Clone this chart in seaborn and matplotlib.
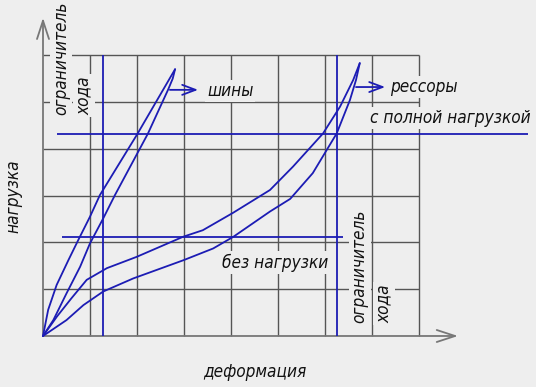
import matplotlib
matplotlib.use("Agg")
import matplotlib.pyplot as plt
import seaborn as sns
from matplotlib import font_manager
from matplotlib.font_manager import FontProperties
from matplotlib.textpath import TextPath

# ---- data (grid units: deformation, load) ----
tire_load_x = [0, 0.11, 0.29, 0.54, 0.75, 1.0, 1.21, 2.01, 2.81]
tire_load_y = [0, 0.56, 1.09, 1.62, 2.05, 2.55, 3.01, 4.32, 5.70]
tire_unload_x = [0, 0.22, 0.50, 0.79, 1.0, 1.28, 1.53, 2.23, 2.66, 2.76, 2.81]
tire_unload_y = [0, 0.34, 0.91, 1.48, 1.98, 2.51, 3.01, 4.32, 5.26, 5.50, 5.70]
spring_load_x = [0, 0.30, 0.60, 0.93, 1.36, 1.99, 2.98, 3.40, 4.04, 4.83, 5.32, 5.96, 6.32, 6.60, 6.74]
spring_load_y = [0, 0.42, 0.80, 1.20, 1.45, 1.69, 2.12, 2.26, 2.63, 3.12, 3.62, 4.33, 4.90, 5.47, 5.83]
spring_unload_x = [0, 0.50, 0.86, 1.28, 1.92, 2.99, 3.62, 4.05, 4.83, 5.26, 5.74, 6.25, 6.53, 6.66, 6.74]
spring_unload_y = [0, 0.34, 0.66, 0.95, 1.23, 1.62, 1.87, 2.12, 2.66, 2.93, 3.48, 4.33, 5.04, 5.47, 5.83]

grid_x = [1, 2, 3, 4, 5, 6, 7, 8]
grid_y = [1, 2, 3, 4, 5, 6]
limit_tire_x = 1.28
limit_spring_x = 6.25
full_load_y = 4.32
no_load_y = 2.12

BG = "#eeeeee"
BLUE = "#1c1cb4"
GRID = "#555555"
AXC = "#777777"

sns.set_theme(style="white")
plt.rcParams["font.family"] = ["DejaVu Sans"]

# pick a narrow italic font if one is installed
fp = None
for key in ["LiberationSansNarrow-Italic", "DejaVuSansCondensed-Oblique",
            "RobotoCondensed-Italic", "OpenSans_Condensed-Italic",
            "OpenSansCondensed-Italic", "Roboto-Italic", "Lato-Italic", "Inter-Italic"]:
    for f in font_manager.fontManager.ttflist:
        if key.lower() in f.fname.lower().replace(" ", ""):
            fp = FontProperties(fname=f.fname)
            break
    if fp is not None:
        break
if fp is None:
    fp = FontProperties(family="DejaVu Sans", style="italic")

# size so that the longest label matches the reference width (~159 px)
fp.set_size(14)
w = TextPath((0, 0), "с полной нагрузкой", prop=fp).get_extents().width  # points
fs = 14 * (159 * 0.72) / w
fp.set_size(fs)

fig = plt.figure(figsize=(5.36, 3.87), dpi=100, facecolor=BG)
ax = fig.add_axes([0, 0, 1, 1], facecolor=BG)
ax.set_xlim(-0.915, 10.49)
ax.set_ylim(-1.09, 7.18)
ax.axis("off")

# grid
ax.vlines(grid_x, 0, 6, color=GRID, lw=1.0, zorder=1)
ax.hlines(grid_y, 0, 8, color=GRID, lw=1.0, zorder=1)

# axes with arrows
arrow = dict(arrowstyle="->,head_length=1.1,head_width=0.36", color=AXC, lw=1.3,
             shrinkA=0, shrinkB=0)
ax.annotate("", xy=(8.83, 0), xytext=(0, 0), arrowprops=arrow, zorder=3.5)
ax.annotate("", xy=(0, 6.80), xytext=(0, 0), arrowprops=arrow, zorder=3.5)

# limiters and load levels
ax.vlines([limit_tire_x, limit_spring_x], 0, 6, color=BLUE, lw=1.3, zorder=4)
ax.hlines(full_load_y, 0.30, 10.32, color=BLUE, lw=1.3, zorder=4)
ax.hlines(no_load_y, 0.40, 6.38, color=BLUE, lw=1.3, zorder=4)

# curves
for xs, ys in [(tire_load_x, tire_load_y), (tire_unload_x, tire_unload_y),
               (spring_load_x, spring_load_y), (spring_unload_x, spring_unload_y)]:
    sns.lineplot(x=xs, y=ys, sort=False, color=BLUE, lw=1.3, ax=ax, zorder=5,
                 estimator=None)

# label arrows
parrow = dict(arrowstyle="->,head_length=0.8,head_width=0.3", color=BLUE, lw=1.3,
              shrinkA=0, shrinkB=0)
ax.annotate("", xy=(3.30, 5.26), xytext=(2.70, 5.26), arrowprops=parrow, zorder=5)
ax.annotate("", xy=(7.28, 5.32), xytext=(6.66, 5.32), arrowprops=parrow, zorder=5)

box = dict(facecolor=BG, edgecolor="none", pad=1.5)
tk = dict(fontproperties=fp, color="#111111", zorder=3, bbox=box)

ax.text(3.49, 5.13, "шины", ha="left", va="baseline", **tk)
ax.text(7.38, 5.21, "рессоры", ha="left", va="baseline", **tk)
ax.text(6.96, 4.56, "с полной нагрузкой", ha="left", va="baseline", **tk)
ax.text(3.81, 1.46, "без нагрузки", ha="left", va="baseline", **tk)
ax.text(4.51, -0.87, "деформация", ha="center", va="baseline", **tk)
ax.text(-0.64, 2.98, "нагрузка", ha="center", va="center", rotation=90, **tk)

# travel limiter labels (two rotated lines each)
ax.text(0.38, 4.72, "ограничитель", ha="center", va="bottom", rotation=90, **tk)
ax.text(0.87, 4.72, "хода", ha="center", va="bottom", rotation=90, **tk)
ax.text(6.74, 0.28, "ограничитель", ha="center", va="bottom", rotation=90, **tk)
ax.text(7.26, 0.28, "хода", ha="center", va="bottom", rotation=90, **tk)

fig.savefig("out.png", dpi=100, facecolor=BG)
